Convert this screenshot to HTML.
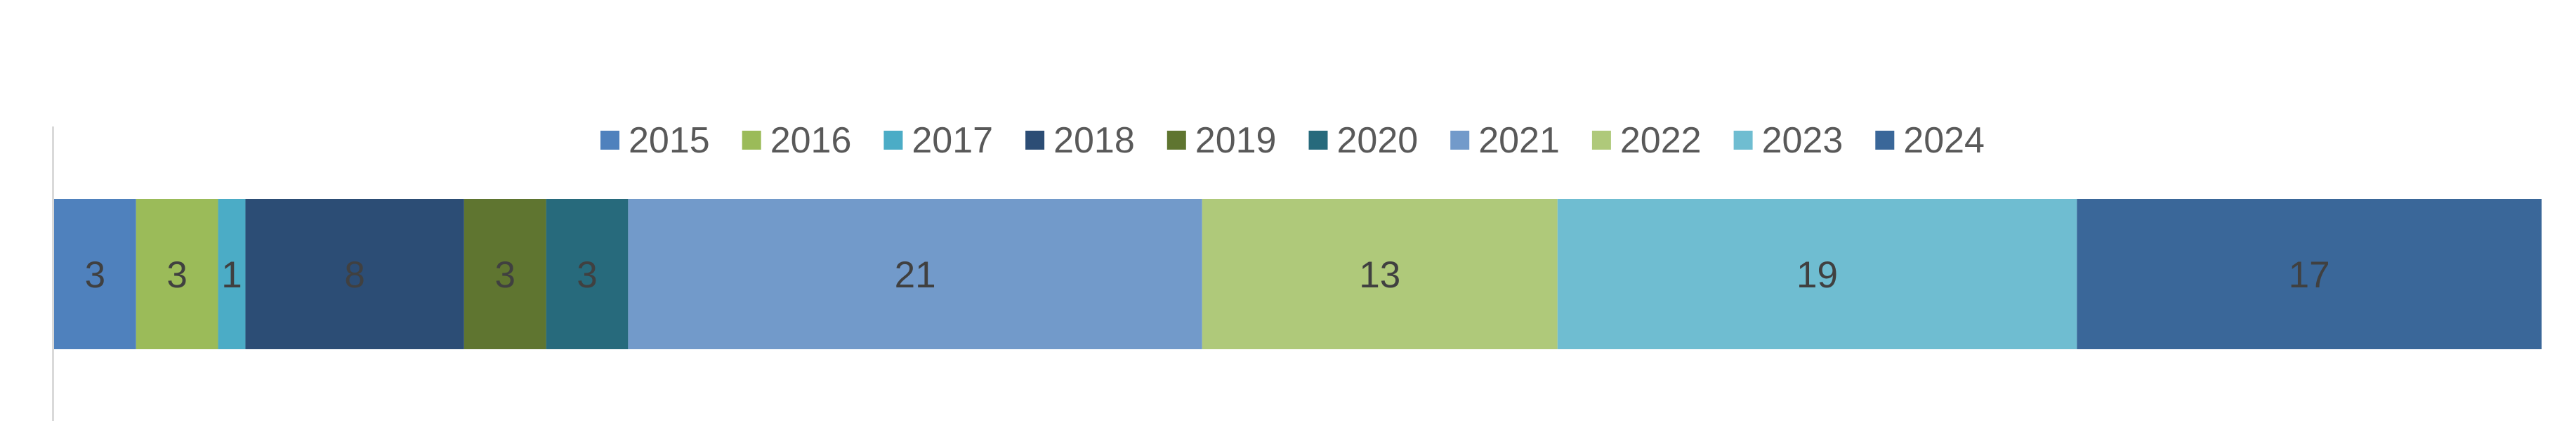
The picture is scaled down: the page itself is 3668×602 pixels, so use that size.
<!DOCTYPE html>
<html><head><meta charset="utf-8"><style>
html,body{margin:0;padding:0;background:#fff;width:3668px;height:602px;overflow:hidden}
svg text{font-family:"Liberation Sans",Arial,sans-serif}
</style></head><body>
<svg id="chart" width="3668" height="602" xmlns="http://www.w3.org/2000/svg">
<line x1="75.5" y1="180" x2="75.5" y2="599" stroke="#d9d9d9" stroke-width="3"/>
<g id="legend"></g>
<g id="bars"></g>
</svg>
<script>
const years = ["2015","2016","2017","2018","2019","2020","2021","2022","2023","2024"];
const values = [3,3,1,8,3,3,21,13,19,17];
const colors = ["#4f81bd","#9bbb59","#4bacc6","#2c4d75","#5f7530","#276a7c","#729aca","#afc97a","#6fbdd1","#3a6799"];
const NS="http://www.w3.org/2000/svg";
const x0=77, x1=3619, yTop=283, yBot=497;
const total=values.reduce((a,b)=>a+b,0);
const xScale=v=>x0+(v/total)*(x1-x0);
const bars=document.getElementById('bars');
let cum=0;
values.forEach((v,i)=>{
  const xa=xScale(cum), xb=xScale(cum+v);
  const r=document.createElementNS(NS,'rect');
  r.setAttribute('x',xa);r.setAttribute('y',yTop);
  r.setAttribute('width',xb-xa);r.setAttribute('height',yBot-yTop);
  r.setAttribute('fill',colors[i]);
  
  
  bars.appendChild(r);
  const t=document.createElementNS(NS,'text');
  t.setAttribute('x',(xa+xb)/2);t.setAttribute('y',409);
  t.setAttribute('text-anchor','middle');t.setAttribute('font-size','53');
  t.setAttribute('fill','#404040');
  
  
  t.textContent=v;
  bars.appendChild(t);
  cum+=v;
});
const legend=document.getElementById('legend');
years.forEach((y,i)=>{
  const lx=855+i*201.7;
  const g=document.createElementNS(NS,'g');
  
  
  const r=document.createElementNS(NS,'rect');
  r.setAttribute('x',lx);r.setAttribute('y',186);r.setAttribute('width',27);r.setAttribute('height',27);
  r.setAttribute('fill',colors[i]);
  
  
  g.appendChild(r);
  const t=document.createElementNS(NS,'text');
  t.setAttribute('x',lx+40);t.setAttribute('y',217);
  t.setAttribute('font-size','52');t.setAttribute('fill','#595959');
  
  
  t.textContent=y;
  g.appendChild(t);
  legend.appendChild(g);
});
</script>
</body></html>
